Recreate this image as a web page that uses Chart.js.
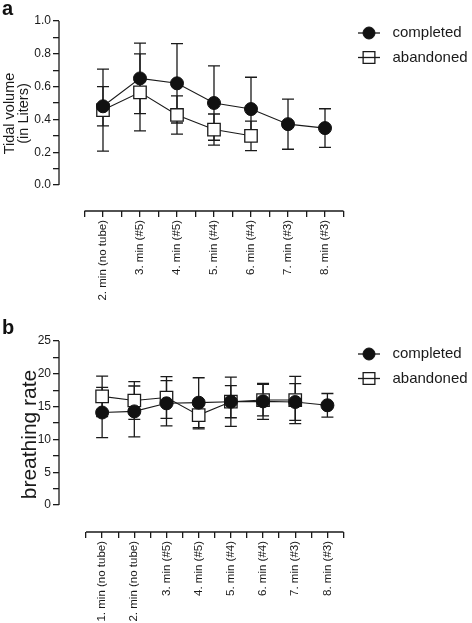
<!DOCTYPE html>
<html>
<head>
<meta charset="utf-8">
<title>Tidal volume and breathing rate</title>
<script src="https://cdn.jsdelivr.net/npm/chart.js@4.4.0/dist/chart.umd.min.js"></script>
<style>
  html, body { margin: 0; padding: 0; background: #fff; }
  body { position: relative; width: 472px; height: 623px; overflow: hidden; font-family: "Liberation Sans", Arial, sans-serif; }
  .panel { position: absolute; left: 0; }
  .tag { position: absolute; left: 2px; font-weight: bold; font-size: 20px; line-height: 20px; color: #111; }
</style>
</head>
<body>
<div class="panel" style="top:0"><canvas id="chartA" width="472" height="300"></canvas></div>
<div class="panel" style="top:300px"><canvas id="chartB" width="472" height="323"></canvas></div>
<div class="tag" style="top:-2px">a</div>
<div class="tag" style="top:317px">b</div>
<script>
// ---- panel a: tidal volume (mean and SD) ----
var labelsA = ['2. min (no tube)', '3. min (#5)', '4. min (#5)', '5. min (#4)', '6. min (#4)', '7. min (#3)', '8. min (#3)'];
var completedA = [0.48, 0.65, 0.62, 0.50, 0.463, 0.371, 0.347];
var completedSdA = [0.12, 0.215, 0.242, 0.227, 0.194, 0.153, 0.118];
var abandonedA = [0.457, 0.565, 0.427, 0.338, 0.30];
var abandonedSdA = [0.25, 0.235, 0.117, 0.095, 0.09];
var yTicksA = [0, 0.2, 0.4, 0.6, 0.8, 1.0];

// ---- panel b: breathing rate (mean and SD) ----
var labelsB = ['1. min (no tube)', '2. min (no tube)', '3. min (#5)', '4. min (#5)', '5. min (#4)', '6. min (#4)', '7. min (#3)', '8. min (#3)'];
var completedB = [14.1, 14.27, 15.5, 15.6, 15.75, 15.8, 15.7, 15.2];
var completedSdB = [3.84, 3.87, 3.45, 3.8, 3.75, 2.75, 2.8, 1.8];
var abandonedB = [16.56, 15.93, 16.38, 13.7, 15.75, 16.0, 16.0];
var abandonedSdB = [3.1, 2.87, 3.18, 2.1, 2.45, 2.4, 3.6];
var yTicksB = [0, 5, 10, 15, 20, 25];

var INK = '#1a1a1a';
var FONT = '"Liberation Sans", Arial, sans-serif';
Chart.defaults.font.family = FONT;
Chart.defaults.color = INK;

function pairs(values) {
  return values.map(function (v, i) { return {x: i, y: v}; });
}

// mean +/- sd whiskers, drawn under the markers
var errorBars = {
  id: 'errorBars',
  beforeDatasetsDraw: function (chart) {
    var ctx = chart.ctx, xs = chart.scales.x, ys = chart.scales.y;
    ctx.save();
    ctx.strokeStyle = INK;
    ctx.lineWidth = 1.3;
    chart.data.datasets.forEach(function (ds) {
      ds.data.forEach(function (p, i) {
        var x = xs.getPixelForValue(p.x);
        var top = ys.getPixelForValue(p.y + ds.sd[i]);
        var bot = ys.getPixelForValue(p.y - ds.sd[i]);
        ctx.beginPath();
        ctx.moveTo(x, top); ctx.lineTo(x, bot);
        ctx.moveTo(x - 6, top); ctx.lineTo(x + 6, top);
        ctx.moveTo(x - 6, bot); ctx.lineTo(x + 6, bot);
        ctx.stroke();
      });
    });
    ctx.restore();
  }
};

// prism style axes: y line only over the tick range, x line only over the categories
var axisLines = {
  id: 'axisLines',
  afterDraw: function (chart) {
    var ctx = chart.ctx, xs = chart.scales.x, ys = chart.scales.y, area = chart.chartArea;
    var yt = chart.options.yTicks, n = chart.options.nCats;
    ctx.save();
    ctx.strokeStyle = INK;
    ctx.lineWidth = 1.3;
    ctx.beginPath();
    ctx.moveTo(area.left, ys.getPixelForValue(yt[yt.length - 1]));
    ctx.lineTo(area.left, ys.getPixelForValue(yt[0]));
    ctx.moveTo(xs.getPixelForValue(-0.5), area.bottom);
    ctx.lineTo(xs.getPixelForValue(n - 0.5), area.bottom);
    ctx.stroke();
    ctx.restore();
  }
};

// legend symbol: short line with the marker on it
var legendMarkers = {
  id: 'legendMarkers',
  afterDraw: function (chart) {
    var legend = chart.legend;
    if (!legend || !legend.legendHitBoxes) return;
    var ctx = chart.ctx, bw = legend.options.labels.boxWidth;
    legend.legendHitBoxes.forEach(function (box, i) {
      var ds = chart.data.datasets[i];
      var cx = box.left + bw / 2, cy = box.top + box.height / 2;
      ctx.save();
      ctx.strokeStyle = INK;
      ctx.lineWidth = 1.3;
      ctx.beginPath();
      ctx.moveTo(cx - 11, cy); ctx.lineTo(cx + 11, cy);
      ctx.stroke();
      ctx.fillStyle = ds.pointStyle === 'rect' ? 'rgba(0,0,0,0)' : ds.pointBackgroundColor;
      ctx.strokeStyle = ds.pointBorderColor;
      ctx.lineWidth = ds.pointBorderWidth;
      Chart.helpers.drawPoint(ctx, {pointStyle: ds.pointStyle, radius: ds.pointRadius - 0.5, borderWidth: ds.pointBorderWidth, rotation: 0}, cx, cy);
      ctx.restore();
    });
  }
};

function makeChart(id, cfg) {
  var n = cfg.labels.length;
  var yt = cfg.yTicks;
  var half = (yt[1] - yt[0]) / 2;
  return new Chart(document.getElementById(id), {
    type: 'line',
    data: {
      datasets: [{
        label: 'completed',
        data: pairs(cfg.completed),
        sd: cfg.completedSd,
        borderColor: INK, borderWidth: 1.1, tension: 0, fill: false,
        pointStyle: 'circle', pointRadius: 6.5,
        pointBackgroundColor: '#111', pointBorderColor: '#111', pointBorderWidth: 1
      }, {
        label: 'abandoned',
        data: pairs(cfg.abandoned),
        sd: cfg.abandonedSd,
        borderColor: INK, borderWidth: 1.1, tension: 0, fill: false,
        pointStyle: 'rect', pointRadius: 8.8,
        pointBackgroundColor: '#fff', pointBorderColor: INK, pointBorderWidth: 1.3
      }]
    },
    options: {
      responsive: false,
      animation: false,
      devicePixelRatio: 1,
      yTicks: yt,
      nCats: n,
      layout: {padding: {top: cfg.padTop, left: 0, right: 0, bottom: 0}},
      plugins: {
        tooltip: {enabled: false},
        legend: {
          position: 'right',
          align: 'start',
          maxWidth: 128.5,
          labels: {
            boxWidth: 32, boxHeight: 12, padding: 9.5, color: INK,
            font: {size: 15},
            generateLabels: function (chart) {
              return Chart.defaults.plugins.legend.labels.generateLabels(chart).map(function (item) {
                item.fillStyle = 'rgba(0,0,0,0)';
                item.strokeStyle = 'rgba(0,0,0,0)';
                item.lineWidth = 0;
                return item;
              });
            }
          }
        }
      },
      scales: {
        x: {
          type: 'linear',
          position: 'bottom',
          min: cfg.xMin,
          max: n - 0.5,
          afterFit: function (s) { s.height = cfg.xHeight; },
          afterBuildTicks: function (s) {
            var t = [];
            for (var k = -1; k <= 2 * n - 1; k++) t.push({value: k / 2});
            s.ticks = t;
          },
          border: {display: false},
          grid: {drawOnChartArea: false, drawTicks: true, tickLength: 6, color: INK, lineWidth: 1.3},
          ticks: {
            autoSkip: false, minRotation: 90, maxRotation: 90, padding: 3,
            font: {size: 11.5}, color: INK,
            callback: function (v) { return Number.isInteger(v) ? cfg.labels[v] : ''; }
          }
        },
        y: {
          min: cfg.yMin,
          max: cfg.yMax,
          afterFit: function (s) { s.width = 59; },
          afterBuildTicks: function (s) {
            var t = [];
            for (var k = 0; k <= 2 * (yt.length - 1); k++) t.push({value: Math.round(k * half * 1000) / 1000});
            s.ticks = t;
          },
          border: {display: false},
          grid: {drawOnChartArea: false, drawTicks: true, tickLength: 6, color: INK, lineWidth: 1.3},
          ticks: {
            autoSkip: false, padding: 2, font: {size: 12}, color: INK,
            callback: function (v) {
              return yt.some(function (m) { return Math.abs(m - v) < 1e-6; }) ? cfg.yFormat(v) : '';
            }
          },
          title: {
            display: true, text: cfg.yTitle, color: INK,
            font: {size: cfg.yTitleSize, lineHeight: cfg.yTitleLH},
            padding: {top: cfg.yTitlePad, bottom: 0}
          }
        }
      }
    },
    plugins: [errorBars, axisLines, legendMarkers]
  });
}

makeChart('chartA', {
  labels: labelsA, completed: completedA, completedSd: completedSdA,
  abandoned: abandonedA, abandonedSd: abandonedSdA, yTicks: yTicksA,
  yFormat: function (v) { return v.toFixed(1); },
  yTitle: ['Tidal volume', '(in Liters)'], yTitleSize: 14.5, yTitleLH: 0.92, yTitlePad: 3.5,
  padTop: 16, xHeight: 89, xMin: -1.189, yMin: -0.1585, yMax: 1.0305
});

makeChart('chartB', {
  labels: labelsB, completed: completedB, completedSd: completedSdB,
  abandoned: abandonedB, abandonedSd: abandonedSdB, yTicks: yTicksB,
  yFormat: function (v) { return String(v); },
  yTitle: 'breathing rate', yTitleSize: 21, yTitleLH: 1.15, yTitlePad: 18,
  padTop: 37, xHeight: 91, xMin: -1.34, yMin: -4.116, yMax: 25.61
});
</script>
</body>
</html>
